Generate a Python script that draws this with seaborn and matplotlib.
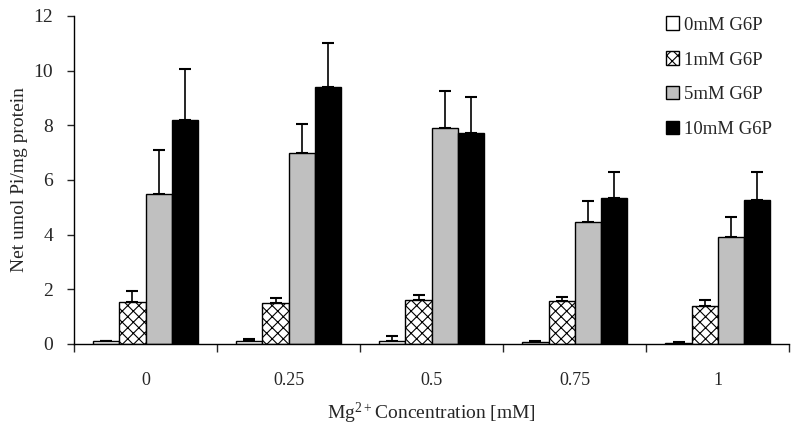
import numpy as np
import pandas as pd
import seaborn as sns
import matplotlib.pyplot as plt
from matplotlib.ticker import FixedLocator

# Datos
mg_conc = ['0', '0.25', '0.5', '0.75', '1']
series = ['0mM G6P', '1mM G6P', '5mM G6P', '10mM G6P']

g6p_0 = [0.10, 0.12, 0.12, 0.08, 0.05]
g6p_1 = [1.55, 1.50, 1.60, 1.57, 1.39]
g6p_5 = [5.50, 7.00, 7.90, 4.46, 3.91]
g6p_10 = [8.20, 9.40, 7.70, 5.34, 5.27]

err_0 = [0.02, 0.05, 0.18, 0.02, 0.01]
err_1 = [0.40, 0.18, 0.20, 0.15, 0.21]
err_5 = [1.60, 1.05, 1.35, 0.77, 0.74]
err_10 = [1.85, 1.60, 1.35, 0.95, 1.02]

values = [g6p_0, g6p_1, g6p_5, g6p_10]
errors = [err_0, err_1, err_5, err_10]

colores = ['white', 'white', '#c0c0c0', 'black']
tramas = ['', 'xxx', '', '']

df = pd.DataFrame({
    'mg': np.tile(mg_conc, len(series)),
    'serie': np.repeat(series, len(mg_conc)),
    'valor': np.concatenate(values),
})

sns.set_style('white')
plt.rcParams['font.family'] = ['Liberation Serif', 'DejaVu Serif']
plt.rcParams['mathtext.fontset'] = 'custom'
plt.rcParams['mathtext.rm'] = 'Liberation Serif'
plt.rcParams['hatch.linewidth'] = 0.8

fig = plt.figure(figsize=(8, 4.32), dpi=100)
ax = fig.add_axes([0.0925, 0.204, 0.894, 0.759])

sns.barplot(data=df, x='mg', y='valor', hue='serie', hue_order=series,
            order=mg_conc, errorbar=None, width=0.73, ax=ax, legend=False,
            palette=colores, edgecolor='black', linewidth=1.0, saturation=1)

# Colores, tramas y barras de error (solo hacia arriba)
barras = list(ax.containers)
for i, cont in enumerate(barras):
    xs, ys = [], []
    for bar in cont:
        bar.set_facecolor(colores[i])
        bar.set_edgecolor('black')
        bar.set_hatch(tramas[i])
        bar.set_zorder(2)
        xs.append(bar.get_x() + bar.get_width() / 2)
        ys.append(bar.get_height())
    err = np.array(errors[i])
    ax.errorbar(xs, ys, yerr=[np.zeros_like(err), err], fmt='none', zorder=1,
                ecolor='black', elinewidth=1.2, capsize=4, capthick=1.5)

ax.set_ylim(0, 12)
ax.set_xlim(-0.5, len(mg_conc) - 0.5)
ax.set_yticks(range(0, 13, 2))
ax.tick_params(axis='y', direction='out', length=5, width=1, left=True,
               labelsize=14, pad=10)
ax.tick_params(axis='x', which='major', length=0, labelsize=13, pad=20)
ax.xaxis.set_minor_locator(FixedLocator(np.arange(-0.5, len(mg_conc), 1)))
ax.tick_params(axis='x', which='minor', direction='out', length=6, width=1, bottom=True)

sns.despine(ax=ax)
for s in ['left', 'bottom']:
    ax.spines[s].set_color('black')
    ax.spines[s].set_linewidth(1)

ax.set_xlabel(r'$\mathregular{Mg^{2+}}$Concentration [mM]', fontsize=14, labelpad=9)
ax.set_ylabel('Net umol Pi/mg protein', fontsize=14, labelpad=4)

ax.legend(handles=[c.patches[0] for c in barras], labels=series, loc='upper right',
          bbox_to_anchor=(1.0, 1.05), frameon=False, fontsize=13.5,
          handlelength=0.7, handleheight=0.7, handletextpad=0.3, labelspacing=0.95)

plt.savefig('out.png', dpi=100)
